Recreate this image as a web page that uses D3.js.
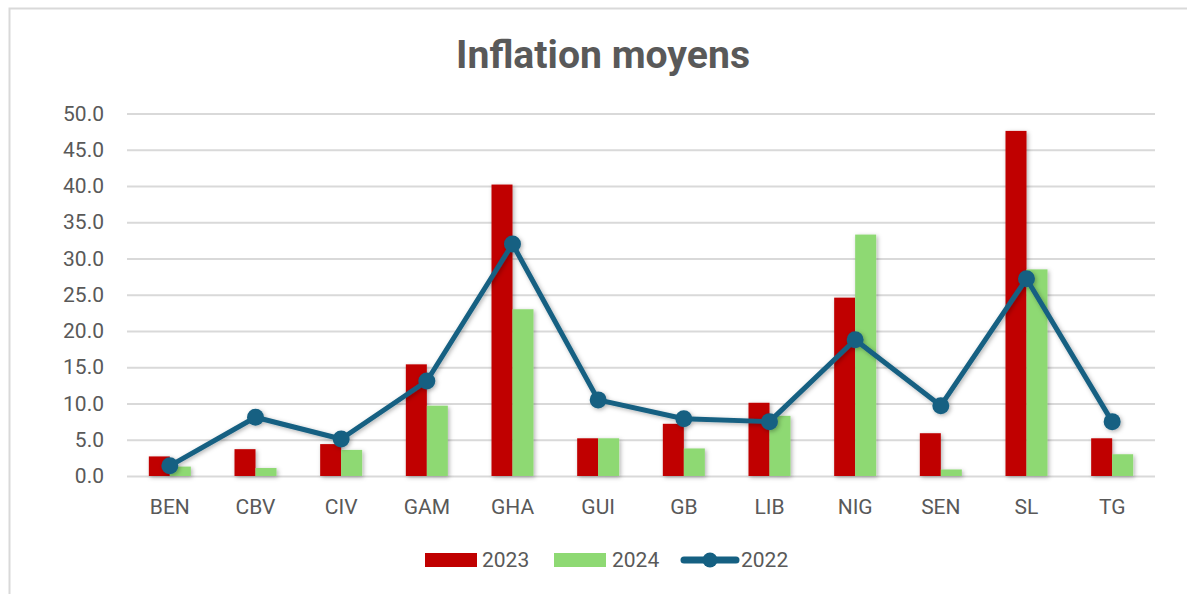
<!DOCTYPE html>
<html>
<head>
<meta charset="utf-8">
<script src="https://cdn.jsdelivr.net/npm/d3@7"></script>
<style>
  html, body { margin: 0; padding: 0; background: #fff; }
  svg { display: block; }
</style>
</head>
<body>
<svg id="chart" width="1187" height="594"></svg>
<script>
const categories = ["BEN","CBV","CIV","GAM","GHA","GUI","GB","LIB","NIG","SEN","SL","TG"];
const values2023 = [2.7, 3.7, 4.4, 15.4, 40.2, 5.2, 7.2, 10.1, 24.6, 5.9, 47.6, 5.2];
const values2024 = [1.3, 1.1, 3.6, 9.7, 23.0, 5.2, 3.8, 8.3, 33.3, 0.9, 28.5, 3.0];
const values2022 = [1.4, 8.1, 5.1, 13.1, 32.0, 10.5, 7.9, 7.5, 18.8, 9.7, 27.2, 7.5];
const yTicks = [0, 5, 10, 15, 20, 25, 30, 35, 40, 45, 50];
const barSeries = ["2023", "2024"];
const lineSeries = "2022";
const title = "Inflation moyens";

const colors = { "2023": "#C00000", "2024": "#8ED973", "2022": "#156082" };
const textColor = "#595959";
const gridColor = "#D9D9D9";
const font = "Roboto, 'Liberation Sans', Arial, sans-serif";

const svg = d3.select("#chart");

// shadow filter
const defs = svg.append("defs");
const f = defs.append("filter").attr("id", "shadow").attr("x", "-30%").attr("y", "-30%").attr("width", "160%").attr("height", "160%");
f.append("feDropShadow").attr("dx", 1.5).attr("dy", 1.5).attr("stdDeviation", 2).attr("flood-color", "#000").attr("flood-opacity", 0.3);

// frame
svg.append("path")
  .attr("d", "M9.5,594 L9.5,8.5 L1187,8.5")
  .attr("fill", "none").attr("stroke", gridColor).attr("stroke-width", 2);

const plot = { left: 127, right: 1155, top: 113.5, bottom: 476 };

const x = d3.scaleBand().domain(categories).range([plot.left, plot.right]).padding(0);
const y = d3.scaleLinear().domain([0, 50]).range([plot.bottom, plot.top]);
const xs = d3.scaleBand().domain(barSeries).range([-21, 21]).padding(0);

// gridlines
const grid = svg.append("g").attr("transform", `translate(${plot.left},0)`)
  .call(d3.axisLeft(y).tickValues(yTicks).tickSize(-(plot.right - plot.left)).tickFormat(""));
grid.select(".domain").remove();
grid.selectAll("line").attr("stroke", gridColor).attr("stroke-width", 1.8);

// y axis labels
const yAxis = svg.append("g").attr("transform", `translate(${plot.left},0)`)
  .call(d3.axisLeft(y).tickValues(yTicks).tickSize(0).tickPadding(23).tickFormat(d3.format(".1f")));
yAxis.select(".domain").remove();
yAxis.selectAll("text").attr("fill", textColor).style("font-family", font).style("font-size", "21px");

// x axis labels
const xAxis = svg.append("g").attr("transform", `translate(0,${plot.bottom})`)
  .call(d3.axisBottom(x).tickSize(0).tickPadding(23));
xAxis.select(".domain").remove();
xAxis.selectAll("text").attr("fill", textColor).style("font-family", font).style("font-size", "21px");

// bars
const barData = [];
categories.forEach((c, i) => {
  barData.push({ cat: c, s: "2023", v: values2023[i] });
  barData.push({ cat: c, s: "2024", v: values2024[i] });
});
svg.append("g").attr("filter", "url(#shadow)")
  .selectAll("rect").data(barData).join("rect")
  .attr("x", d => x(d.cat) + x.bandwidth() / 2 + xs(d.s))
  .attr("width", xs.bandwidth())
  .attr("y", d => y(d.v))
  .attr("height", d => y(0) - y(d.v))
  .attr("fill", d => colors[d.s]);

// line
const lineData = categories.map((c, i) => ({ cat: c, v: values2022[i] }));
const lg = svg.append("g").attr("filter", "url(#shadow)");
lg.append("path")
  .datum(lineData)
  .attr("d", d3.line().x(d => x(d.cat) + x.bandwidth() / 2).y(d => y(d.v)))
  .attr("fill", "none").attr("stroke", colors["2022"]).attr("stroke-width", 5)
  .attr("stroke-linejoin", "round").attr("stroke-linecap", "round");
lg.selectAll("circle").data(lineData).join("circle")
  .attr("cx", d => x(d.cat) + x.bandwidth() / 2)
  .attr("cy", d => y(d.v))
  .attr("r", 8.5)
  .attr("fill", colors["2022"]);

// title
const t = svg.append("text")
  .attr("x", 603).attr("y", 68)
  .attr("text-anchor", "middle")
  .attr("fill", textColor)
  .style("font-family", font).style("font-weight", "700").style("font-size", "38px")
  .text(title);
t.attr("textLength", 294).attr("lengthAdjust", "spacingAndGlyphs");

// legend
const legend = svg.append("g");
const legendItems = [
  { key: "2023", type: "bar", sx: 425, tx: 482 },
  { key: "2024", type: "bar", sx: 554, tx: 612 },
  { key: "2022", type: "line", sx: 681, tx: 741 }
];
legendItems.forEach(it => {
  if (it.type === "bar") {
    legend.append("rect").attr("x", it.sx).attr("y", 553).attr("width", 52).attr("height", 14)
      .attr("fill", colors[it.key]);
  } else {
    legend.append("line").attr("x1", it.sx + 3).attr("x2", it.sx + 55).attr("y1", 560).attr("y2", 560)
      .attr("stroke", colors[it.key]).attr("stroke-width", 7).attr("stroke-linecap", "round");
    legend.append("circle").attr("cx", it.sx + 29).attr("cy", 560).attr("r", 7.5).attr("fill", colors[it.key]);
  }
  legend.append("text").attr("x", it.tx).attr("y", 567)
    .attr("fill", textColor).style("font-family", font).style("font-size", "21px")
    .text(it.key);
});
</script>
</body>
</html>
